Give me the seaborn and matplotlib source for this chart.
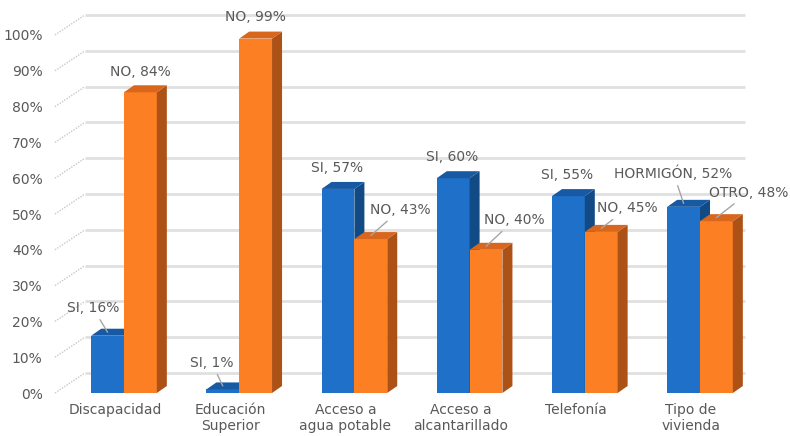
import numpy as np
import pandas as pd
import matplotlib
matplotlib.use("Agg")
import matplotlib.pyplot as plt
import seaborn as sns
from matplotlib.patches import Polygon
from matplotlib.lines import Line2D
from matplotlib.transforms import ScaledTranslation, IdentityTransform

# ---- data ----
categorias = ["Discapacidad", "Educación\nSuperior", "Acceso a\nagua potable",
              "Acceso a\nalcantarillado", "Telefonía", "Tipo de\nvivienda"]
etiquetas_a = ["SI", "SI", "SI", "SI", "SI", "HORMIGÓN"]
valores_a = [0.16, 0.01, 0.57, 0.60, 0.55, 0.52]
etiquetas_b = ["NO", "NO", "NO", "NO", "NO", "OTRO"]
valores_b = [0.84, 0.99, 0.43, 0.40, 0.45, 0.48]
ticks_y = [0.0, 0.1, 0.2, 0.3, 0.4, 0.5, 0.6, 0.7, 0.8, 0.9, 1.0]

# ---- style ----
sns.set_theme(style="white")
plt.rcParams["font.family"] = ["DejaVu Sans"]
GRIS = "#595959"
AZUL, AZUL_TOP, AZUL_LADO = "#1f70c8", "#175aa3", "#124a86"
NAR, NAR_TOP, NAR_LADO = "#fd7f24", "#d8661c", "#ad5217"

W, H, DPI = 790, 436, 100
fig = plt.figure(figsize=(W / DPI, H / DPI), dpi=DPI)
fig.patch.set_facecolor("white")
ax = fig.add_axes([55 / W, (H - 393) / H, 690 / W, 358 / H])

df = pd.DataFrame({
    "categoria": categorias * 2,
    "grupo": ["a"] * len(categorias) + ["b"] * len(categorias),
    "valor": valores_a + valores_b,
})
sns.barplot(data=df, x="categoria", y="valor", hue="grupo",
            palette=[AZUL, NAR], width=0.57, saturation=1, legend=False,
            linewidth=0, edgecolor="none", ax=ax)

PASO = 115.2  # pixels per category
x0 = (55 - 124) / PASO
x1 = (745 - 124) / PASO
ax.set_xlim(x0, x1)
ax.set_ylim(0, 1)
ax.set_facecolor("none")
for s in ax.spines.values():
    s.set_visible(False)
ax.grid(False)
ax.set_xlabel("")
ax.set_ylabel("")

# back-wall gridlines, shifted into depth, plus the diagonal floor stubs
prof = ScaledTranslation(30 / DPI, 20 / DPI, fig.dpi_scale_trans)
x_fin = (715 - 124) / PASO
for v in ticks_y:
    ax.plot([x0, x_fin], [v, v], color="#e0e0e0", lw=2.0,
            transform=ax.transData + prof, zorder=0.5, clip_on=False,
            solid_capstyle="butt")
    p = ax.transData.transform((x0, v))
    ax.add_line(Line2D([p[0], p[0] + 30], [p[1], p[1] + 20],
                       transform=IdentityTransform(), color="#c8c8c8",
                       lw=1.0, linestyle=(0, (1, 1)), zorder=0.5,
                       clip_on=False))

# y ticks at the front plane
ax.set_yticks(ticks_y, labels=[f"{int(round(v * 100))}%" for v in ticks_y])
ax.tick_params(axis="y", length=0, pad=9, labelsize=10, labelcolor=GRIS)
ax.set_xticks(np.arange(len(categorias)) - 9 / PASO, labels=categorias)
ax.tick_params(axis="x", length=0, pad=7, labelsize=10, labelcolor=GRIS)

# 3D extrusion of every bar: top and side faces
DX, DY = 10, 7
def extruir(cont, c_top, c_lado, z):
    for rect in cont.patches:
        rect.set_zorder(z)
        xa, xb = rect.get_x(), rect.get_x() + rect.get_width()
        pa = ax.transData.transform((xa, rect.get_height()))
        pb = ax.transData.transform((xb, rect.get_height()))
        p0 = ax.transData.transform((xb, 0))
        lado = Polygon([p0, p0 + [DX, DY], pb + [DX, DY], pb], closed=True,
                       facecolor=c_lado, edgecolor="none",
                       transform=IdentityTransform(), zorder=z + 0.1,
                       clip_on=False)
        top = Polygon([pa, pb, pb + [DX, DY], pa + [DX, DY]], closed=True,
                      facecolor=c_top, edgecolor="none",
                      transform=IdentityTransform(), zorder=z + 0.1,
                      clip_on=False)
        ax.add_patch(lado)
        ax.add_patch(top)

extruir(ax.containers[0], AZUL_TOP, AZUL_LADO, 2)
extruir(ax.containers[1], NAR_TOP, NAR_LADO, 3)

# data labels: (text offset in px from the top of the bar, leader line?)
pos_a = [(-14.5, 24, True), (-11, 23, True), (-1, 17.5, False),
         (-1, 17.7, False), (-1, 17.6, False), (-10, 30, True)]
pos_b = [(0, 17, False), (0, 18, False), (29, 25.5, True),
         (28, 26, True), (26, 20, True), (32, 25, True)]
punta = ax.transData + ScaledTranslation(0, 3.5 / DPI, fig.dpi_scale_trans)

def rotular(cont, etiquetas, valores, posiciones):
    for rect, et, val, (dx, dy, guia) in zip(cont.patches, etiquetas, valores, posiciones):
        xc = rect.get_x() + rect.get_width() / 2
        kw = {}
        if guia:
            kw["arrowprops"] = dict(arrowstyle="-", color="#a6a6a6", lw=1,
                                    shrinkA=1, shrinkB=0)
        ax.annotate(f"{et}, {int(round(val * 100))}%", xy=(xc, val),
                    xycoords=punta, xytext=(dx, dy),
                    textcoords="offset pixels", ha="center",
                    va="center", fontsize=10, color=GRIS,
                    zorder=6, annotation_clip=False, **kw)

rotular(ax.containers[0], etiquetas_a, valores_a, pos_a)
rotular(ax.containers[1], etiquetas_b, valores_b, pos_b)

fig.savefig("out.png", dpi=DPI, facecolor="white")
